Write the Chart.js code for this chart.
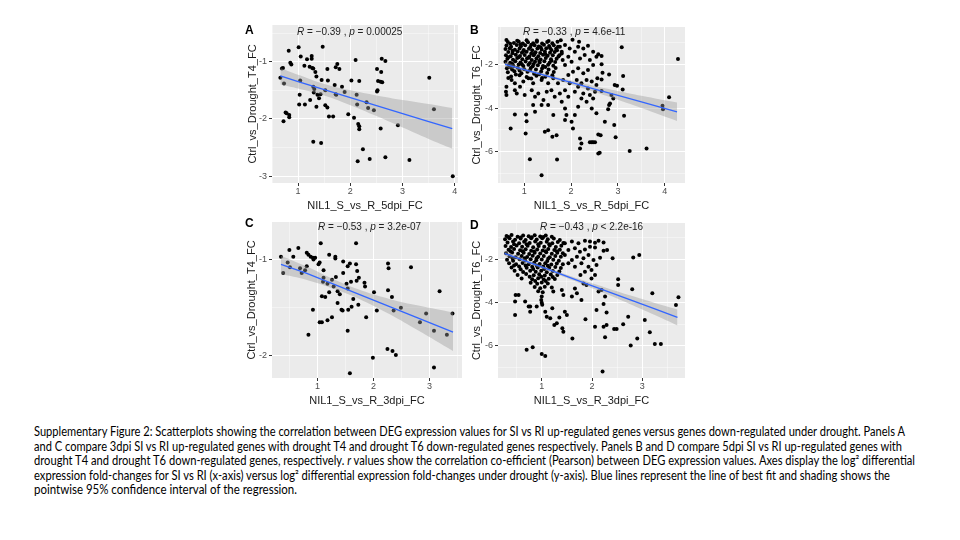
<!DOCTYPE html>
<html>
<head>
<meta charset="utf-8">
<script src="https://cdn.jsdelivr.net/npm/chart.js@4.4.1/dist/chart.umd.min.js"></script>
<style>
  body { margin: 0; width: 960px; height: 540px; background: #fff; position: relative; overflow: hidden;
         font-family: 'Liberation Sans', Arial, sans-serif; }
  canvas { position: absolute; z-index: 1; }
  .stat { position: absolute; z-index: 3; font-size: 10px; line-height: 12px; color: #222; white-space: nowrap; }
  .tag { position: absolute; z-index: 3; font-size: 12px; font-weight: bold; line-height: 14px; color: #000; }
  #cap { position: absolute; left: 34px; top: 425px; font-family: Lato, 'Open Sans', sans-serif;
         font-size: 12.5px; line-height: 14.6px; color: #000; }
  #cap div { white-space: nowrap; transform-origin: 0 0; width: max-content; }
</style>
</head>
<body>

<div class="tag" style="left:245px;top:23px">A</div>
<div class="tag" style="left:470px;top:23px">B</div>
<div class="tag" style="left:245px;top:216px">C</div>
<div class="tag" style="left:470px;top:218px">D</div>

<div class="stat" style="left:297px;top:26px"><i>R</i> = −0.39 , <i>p</i> = 0.00025</div>
<div class="stat" style="left:523px;top:26px"><i>R</i> = −0.33 , <i>p</i> = 4.6e-11</div>
<div class="stat" style="left:318px;top:221px"><i>R</i> = −0.53 , <i>p</i> = 3.2e-07</div>
<div class="stat" style="left:540px;top:221px"><i>R</i> = −0.43 , <i>p</i> &lt; 2.2e-16</div>

<div id="cap">
  <div>Supplementary Figure 2: Scatterplots showing the correlation between DEG expression values for SI vs RI up-regulated genes versus genes down-regulated under drought. Panels A</div>
  <div>and C compare 3dpi SI vs RI up-regulated genes with drought T4 and drought T6 down-regulated genes respectively.  Panels B and D compare 5dpi SI vs RI up-regulated genes with</div>
  <div>drought T4 and drought T6 down-regulated genes, respectively. <i>r</i> values show the correlation co-efficient (Pearson) between DEG expression values. Axes display the log² differential</div>
  <div>expression fold-changes for SI vs RI (x-axis) versus log² differential expression fold-changes under drought (y-axis). Blue lines represent the line of best fit and shading shows the</div>
  <div>pointwise 95% confidence interval of the regression.</div>
</div>

<script>
// ---- data ----
const xTicksA = [1, 2, 3, 4], yTicksA = [-1, -2, -3];
const xTicksB = [1, 2, 3, 4], yTicksB = [-2, -4, -6];
const xTicksC = [1, 2, 3],    yTicksC = [-1, -2];
const xTicksD = [1, 2, 3],    yTicksD = [-2, -4, -6];

const xTitles = ['NIL1_S_vs_R_5dpi_FC', 'NIL1_S_vs_R_5dpi_FC', 'NIL1_S_vs_R_3dpi_FC', 'NIL1_S_vs_R_3dpi_FC'];
const yTitles = ['Ctrl_vs_Drought_T4_FC', 'Ctrl_vs_Drought_T6_FC', 'Ctrl_vs_Drought_T4_FC', 'Ctrl_vs_Drought_T6_FC'];

// fitted line and confidence band
const fitXA = [0.66, 1.0, 1.5, 2.0, 2.5, 3.0, 3.5, 3.95];
const fitYA = [-1.25, -1.35, -1.49, -1.63, -1.77, -1.91, -2.05, -2.17];
const hiA   = [-1.11, -1.23, -1.39, -1.50, -1.59, -1.67, -1.74, -1.81];
const loA   = [-1.40, -1.47, -1.59, -1.76, -1.95, -2.15, -2.35, -2.52];

const fitXB = [0.59, 1.0, 1.5, 2.0, 2.5, 3.0, 3.5, 4.26];
const fitYB = [-2.0, -2.24, -2.54, -2.83, -3.13, -3.42, -3.72, -4.17];
const hiB   = [-1.88, -2.16, -2.47, -2.74, -2.99, -3.22, -3.44, -3.75];
const loB   = [-2.12, -2.32, -2.61, -2.92, -3.27, -3.62, -4.0, -4.59];

const fitXC = [0.35, 0.8, 1.3, 1.8, 2.3, 2.8, 3.42];
const fitYC = [-1.05, -1.14, -1.257, -1.374, -1.491, -1.608, -1.754];
const hiC   = [-0.96, -1.07, -1.207, -1.324, -1.411, -1.478, -1.55];
const loC   = [-1.15, -1.21, -1.307, -1.424, -1.571, -1.738, -1.95];

const fitXD = [0.26, 0.75, 1.25, 1.75, 2.25, 2.75, 3.25, 3.7];
const fitYD = [-1.72, -2.14, -2.57, -3.0, -3.43, -3.86, -4.29, -4.68];
const hiD   = [-1.60, -2.06, -2.50, -2.91, -3.29, -3.66, -4.01, -4.31];
const loD   = [-1.84, -2.22, -2.64, -3.09, -3.57, -4.06, -4.57, -5.05];

// genes: [x, y]
const ptsA = [[1.01,-0.75],[0.82,-0.81],[1.47,-0.74],[1.05,-0.91],[1.17,-0.96],[1.26,-0.90],[1.26,-0.95],[0.85,-1.02],[0.87,-1.05],[0.69,-1.12],[0.71,-1.11],[1.12,-1.07],[1.22,-1.09],[1.27,-1.11],[1.29,-1.12],[1.33,-1.18],[1.56,-1.13],[1.75,-1.04],[1.72,-1.10],[1.79,-1.13],[2.10,-0.97],[2.60,-0.95],[2.67,-0.99],[2.51,-1.13],[2.59,-1.18],[0.66,-1.28],[0.73,-1.38],[1.04,-1.33],[1.35,-1.26],[1.45,-1.32],[1.57,-1.33],[1.70,-1.41],[1.84,-1.44],[1.72,-1.57],[1.73,-1.58],[2.02,-1.33],[2.17,-1.34],[2.53,-1.34],[2.58,-1.35],[2.61,-1.36],[2.52,-1.50],[2.51,-1.52],[3.51,-1.28],[3.60,-1.83],[1.03,-1.58],[1.02,-1.75],[1.13,-1.75],[1.23,-1.67],[1.29,-1.44],[1.30,-1.54],[1.31,-1.48],[1.37,-1.58],[1.43,-1.57],[1.40,-1.64],[1.35,-1.79],[1.52,-1.76],[1.56,-1.80],[1.59,-1.96],[1.67,-1.96],[1.52,-1.50],[1.89,-1.53],[2.12,-1.58],[2.13,-1.75],[1.96,-1.92],[2.07,-1.98],[2.31,-1.71],[2.34,-1.81],[2.45,-1.85],[2.15,-2.09],[2.17,-2.13],[2.17,-2.18],[2.58,-2.17],[2.91,-2.11],[0.76,-1.89],[0.78,-1.90],[0.83,-1.93],[0.83,-1.97],[0.72,-2.04],[1.29,-2.40],[1.44,-2.42],[2.24,-2.53],[2.14,-2.74],[2.37,-2.70],[2.67,-2.67],[3.13,-2.72],[3.96,-3.00]];

const ptsB = [[0.62,-0.89],[0.85,-0.92],[1.05,-0.90],[1.27,-0.91],[1.52,-0.93],[1.78,-0.90],[2.03,-0.87],[2.17,-0.96],
  [0.65,-0.98],[0.78,-1.02],[0.88,-0.95],[0.97,-1.04],[1.08,-0.99],[1.19,-1.03],[1.27,-0.96],[1.38,-1.05],[1.49,-0.98],[1.6,-1.03],[1.71,-0.97],
  [0.62,-1.14],[0.72,-1.19],[0.84,-1.11],[0.93,-1.17],[1.02,-1.12],[1.13,-1.2],[1.22,-1.13],[1.31,-1.18],[1.42,-1.1],[1.53,-1.16],[1.63,-1.12],[1.76,-1.19],
  [0.6,-1.3],[0.69,-1.26],[0.8,-1.33],[0.9,-1.27],[0.99,-1.34],[1.1,-1.28],[1.17,-1.35],[1.28,-1.27],[1.37,-1.32],[1.47,-1.26],[1.58,-1.34],[1.68,-1.29],
  [0.66,-1.43],[0.75,-1.49],[0.86,-1.41],[0.95,-1.47],[1.05,-1.42],[1.15,-1.5],[1.24,-1.44],[1.34,-1.48],[1.44,-1.41],[1.55,-1.47],[1.65,-1.43],[1.8,-1.5],
  [0.61,-1.58],[0.71,-1.63],[0.82,-1.56],[0.91,-1.62],[1.01,-1.57],[1.11,-1.64],[1.2,-1.58],[1.3,-1.63],[1.4,-1.56],[1.5,-1.61],[1.61,-1.58],[1.73,-1.64],
  [0.64,-1.74],[0.76,-1.79],[0.85,-1.71],[0.96,-1.77],[1.06,-1.72],[1.16,-1.8],[1.26,-1.73],[1.35,-1.78],[1.46,-1.71],[1.57,-1.77],[1.69,-1.74],
  [0.6,-1.88],[0.7,-1.93],[0.81,-1.86],[0.92,-1.92],[1.03,-1.87],[1.12,-1.94],[1.23,-1.88],[1.33,-1.91],[1.43,-1.86],[1.54,-1.93],[1.66,-1.89],
  [0.67,-2.03],[0.77,-2.08],[0.88,-2.01],[0.98,-2.07],[1.09,-2.02],[1.18,-2.09],[1.29,-2.04],[1.4,-2.08],[1.51,-2.02],[1.62,-2.06],
  [0.63,-2.18],[0.74,-2.23],[0.86,-2.16],[1.0,-2.22],[1.14,-2.17],[1.25,-2.24],[1.38,-2.19],[1.52,-2.23],[1.67,-2.17],
  [0.65,-2.36],[0.79,-2.31],[0.94,-2.41],[1.07,-2.34],[1.21,-2.43],[1.36,-2.33],[1.49,-2.4],[1.63,-2.35],
  [0.72,-2.55],[0.9,-2.5],[1.05,-2.58],[1.26,-2.52],[1.45,-2.57],[1.6,-2.5],
  [0.7,-1.06],[0.92,-1.08],[1.15,-1.1],[1.35,-1.22],[1.55,-1.25],[0.75,-1.38],[0.98,-1.4],[1.22,-1.52],[1.45,-1.53],[0.66,-1.68],[0.88,-1.67],[1.1,-1.7],[1.32,-1.85],[1.58,-1.83],[0.75,-1.98],[0.95,-2.0],[1.2,-1.98],[1.45,-2.12],[0.7,-2.12],[0.9,-2.28],[1.12,-2.27],[1.32,-2.45],[0.82,-2.46],[1.7,-1.35],[1.75,-1.58],[1.82,-1.8],[0.66,-2.62],[1.15,-2.65],[1.38,-2.62],
  [2.01,-1.88],[1.87,-2.03],[1.94,-1.65],[1.80,-1.42],[1.72,-1.19],[1.87,-1.11],[1.97,-1.27],[2.08,-1.42],[2.15,-1.19],[2.26,-1.27],[2.36,-1.15],[2.47,-1.42],[2.58,-1.54],[2.40,-1.80],[2.54,-1.65],[2.29,-1.57],[2.19,-1.73],[1.94,-2.49],[2.04,-2.34],[2.15,-2.18],[2.26,-2.41],[2.36,-2.26],[2.47,-2.03],
  [0.62,-3.02],[0.80,-3.18],[0.84,-3.33],[0.91,-3.02],[1.01,-3.40],[1.16,-3.18],[1.23,-3.48],[1.30,-3.33],[1.41,-3.63],[1.48,-3.25],[1.58,-3.18],[1.65,-3.48],[1.76,-3.33],[1.80,-3.71],[1.87,-3.18],[1.94,-3.48],[2.08,-3.25],[2.15,-3.02],[2.26,-3.33],[2.36,-3.10],[2.40,-3.40],[2.51,-3.25],[2.54,-2.95],
  [0.73,-2.72],[0.80,-2.87],[0.98,-2.79],[1.09,-2.64],[1.19,-2.87],[1.37,-2.72],[1.51,-2.87],[1.62,-2.64],[1.72,-2.87],[1.83,-2.72],[1.97,-2.87],[2.12,-2.72],[2.22,-2.87],[2.33,-2.72],[2.44,-2.79],[2.56,-2.64],
  [0.61,-3.25],[0.62,-3.40],[0.80,-4.29],[0.71,-4.93],[1.04,-4.29],[1.05,-4.60],[1.03,-5.16],[1.12,-6.34],[1.37,-7.07],[1.44,-5.08],[1.51,-5.01],[1.60,-5.31],[1.69,-5.24],[1.70,-6.35],[1.37,-3.86],[1.51,-3.86],[1.23,-4.17],[1.19,-3.86],[1.62,-4.32],[1.87,-4.02],[1.90,-4.32],[2.01,-4.63],[2.04,-4.93],[2.08,-4.32],[2.15,-3.94],[2.22,-3.56],[2.33,-3.71],[2.44,-4.02],[2.47,-3.56],[2.54,-4.24],[2.22,-5.62],[2.19,-5.85],[2.40,-5.57],[2.44,-5.57],[2.47,-5.57],[2.51,-5.57],[2.58,-5.21],[2.58,-6.08],[2.19,-5.39],[1.87,-4.55],
  [3.08,-1.22],[4.28,-1.76],[2.65,-1.62],[2.65,-2.00],[2.67,-2.38],[2.81,-2.46],[3.11,-2.53],[2.65,-2.69],[2.93,-2.95],[2.98,-2.98],[3.10,-3.15],[2.65,-3.22],[2.86,-3.40],[2.90,-3.56],[2.83,-3.79],[2.81,-3.86],[2.79,-4.05],[3.13,-4.35],[4.09,-3.51],[3.95,-3.89],[3.96,-4.05],[2.72,-4.63],[2.92,-4.78],[2.95,-5.34],[2.61,-6.05],[3.25,-5.97],[3.61,-5.85],[2.63,-5.24]];

const ptsC = [[0.35,-0.97],[0.50,-0.90],[0.66,-0.88],[0.57,-0.97],[0.47,-1.03],[0.39,-1.14],[0.51,-1.08],[0.81,-0.93],[0.84,-0.95],[0.88,-0.97],[0.92,-0.98],[0.93,-1.00],[0.81,-1.07],[0.72,-1.14],[1.06,-0.83],[1.04,-1.03],[1.21,-0.95],[1.32,-0.97],[1.32,-0.99],[1.11,-1.11],[1.11,-1.19],[1.10,-1.23],[1.18,-1.25],[1.26,-1.21],[1.29,-1.28],[1.08,-1.38],[1.14,-1.39],[1.21,-1.34],[1.36,-1.33],[1.46,-1.02],[1.54,-1.07],[1.58,-1.04],[1.69,-0.83],[1.69,-1.05],[1.71,-1.12],[1.70,-1.22],[1.74,-1.19],[1.60,-1.23],[1.54,-1.30],[1.36,-1.45],[1.43,-1.52],[1.45,-1.53],[1.55,-1.52],[1.61,-1.49],[1.73,-1.47],[1.84,-1.24],[1.85,-1.28],[1.87,-1.60],[2.01,-1.34],[2.06,-1.53],[2.26,-1.32],[2.33,-1.39],[2.36,-1.53],[2.49,-1.50],[2.26,-1.04],[2.27,-1.09],[2.67,-1.08],[3.18,-1.33],[2.94,-1.56],[2.83,-1.65],[3.08,-1.74],[3.31,-1.78],[3.41,-1.56],[1.04,-1.65],[1.08,-1.65],[1.18,-1.63],[1.26,-1.60],[0.92,-1.52],[0.84,-1.78],[1.54,-1.74],[2.25,-1.93],[2.34,-1.95],[2.40,-1.99],[1.99,-2.02],[1.58,-2.18],[3.08,-2.12],[0.96,-0.98],[1.02,-1.05],[0.69,-1.09],[0.78,-1.11],[1.46,-1.14],[1.33,-1.18],[1.52,-1.25],[1.40,-1.36],[1.64,-1.41]];

const ptsD = [[0.30,-0.92],[0.40,-0.88],[0.52,-0.95],[0.63,-0.90],[0.74,-0.93],[0.86,-0.89],[0.97,-0.94],[1.08,-0.9],[1.2,-0.96],
  [0.27,-1.07],[0.36,-1.02],[0.47,-1.09],[0.58,-1.04],[0.68,-1.1],[0.79,-1.03],[0.9,-1.08],[1.01,-1.02],[1.12,-1.07],[1.24,-1.04],[1.36,-1.1],
  [0.32,-1.22],[0.43,-1.18],[0.55,-1.25],[0.65,-1.19],[0.76,-1.24],[0.87,-1.17],[0.98,-1.23],[1.1,-1.19],[1.21,-1.26],[1.32,-1.2],[1.43,-1.24],
  [0.28,-1.38],[0.39,-1.43],[0.5,-1.36],[0.61,-1.42],[0.72,-1.37],[0.83,-1.44],[0.94,-1.38],[1.05,-1.42],[1.16,-1.36],[1.28,-1.43],[1.39,-1.37],
  [0.34,-1.56],[0.45,-1.52],[0.57,-1.58],[0.68,-1.53],[0.79,-1.6],[0.91,-1.54],[1.02,-1.59],[1.13,-1.52],[1.25,-1.57],[1.36,-1.55],
  [0.29,-1.72],[0.41,-1.68],[0.53,-1.74],[0.64,-1.69],[0.75,-1.75],[0.86,-1.7],[0.97,-1.73],[1.09,-1.67],[1.2,-1.74],[1.31,-1.69],[1.42,-1.72],
  [0.36,-1.86],[0.48,-1.9],[0.6,-1.84],[0.71,-1.89],[0.82,-1.83],[0.93,-1.88],[1.04,-1.85],[1.16,-1.9],[1.27,-1.84],[1.38,-1.88],
  [0.31,-2.02],[0.43,-2.06],[0.56,-2.0],[0.67,-2.05],[0.78,-1.99],[0.89,-2.04],[1.0,-2.01],[1.11,-2.07],[1.23,-2.02],[1.34,-2.06],
  [0.35,-2.18],[0.49,-2.23],[0.62,-2.17],[0.74,-2.22],[0.85,-2.16],[0.96,-2.21],[1.07,-2.18],[1.19,-2.24],[1.3,-2.19],[1.42,-2.22],
  [0.4,-2.37],[0.55,-2.33],[0.7,-2.39],[0.81,-2.34],[0.92,-2.38],[1.03,-2.33],[1.15,-2.39],[1.27,-2.35],[1.38,-2.4],
  [0.46,-2.53],[0.63,-2.58],[0.77,-2.52],[0.88,-2.57],[0.99,-2.53],[1.1,-2.59],[1.22,-2.54],[1.35,-2.56],
  [0.52,-2.72],[0.69,-2.68],[0.84,-2.73],[0.95,-2.69],[1.06,-2.74],[1.18,-2.7],[1.31,-2.72],
  [0.6,-2.88],[0.81,-2.92],[0.93,-2.87],[1.04,-2.93],[1.14,-2.89],[1.26,-2.91],
  [0.78,-3.08],[0.91,-3.13],[1.0,-3.07],[1.12,-3.12],[0.86,-3.28],[0.97,-3.33],[1.06,-3.27],[1.2,-3.3],[0.93,-3.47],[1.02,-3.52],
  [0.34,-0.97],[0.58,-0.99],[0.8,-0.98],[1.03,-0.97],[0.45,-1.3],[0.7,-1.3],[0.93,-1.3],[1.15,-1.3],[0.38,-1.62],[0.62,-1.62],[0.85,-1.64],[1.08,-1.62],[1.3,-1.62],[0.42,-1.95],[0.66,-1.95],[0.9,-1.95],[1.13,-1.96],[0.45,-2.28],[0.68,-2.28],[0.9,-2.28],[1.12,-2.3],[0.58,-2.46],[0.83,-2.45],[1.05,-2.45],[0.76,-2.8],[0.99,-2.8],[1.22,-2.82],[0.87,-3.0],[1.08,-3.0],
  [1.46,-1.26],[1.60,-1.18],[1.73,-1.26],[1.86,-1.14],[1.96,-1.18],[2.06,-1.23],[2.13,-1.14],[1.53,-1.57],[1.66,-1.49],[1.76,-1.65],[1.86,-1.54],[1.96,-1.42],[2.06,-1.45],[1.70,-1.88],[1.83,-1.95],[1.93,-1.80],[1.46,-1.80],[1.60,-2.03],[1.53,-2.18],[1.66,-2.34],[1.79,-2.18],[1.93,-2.34],
  [0.47,-4.57],[0.47,-3.95],[0.48,-3.65],[0.54,-3.65],[0.70,-6.18],[0.82,-6.06],[1.0,-6.37],[1.07,-6.46],[0.74,-4.18],[0.77,-4.18],[0.67,-3.95],[0.77,-4.42],[0.90,-4.18],[1.0,-3.72],[0.99,-3.88],[1.0,-4.0],[1.01,-4.1],[1.07,-4.42],[1.10,-4.65],[1.17,-4.72],[1.21,-4.26],[1.25,-5.03],[1.30,-4.95],[1.35,-4.68],[1.41,-5.18],[1.43,-5.34],[1.46,-4.42],[1.50,-4.57],[1.61,-5.65],[1.60,-3.72],[1.70,-3.57],[1.79,-3.88],[1.87,-4.77],[2.13,-3.49],[2.19,-3.42],[2.26,-3.72],[2.09,-4.34],[2.06,-5.11],[1.40,-3.42],[1.43,-3.65],[1.23,-3.49],[1.66,-3.34],[1.83,-3.11],[1.89,-3.18],[1.99,-2.88],[2.06,-2.72],[1.99,-2.49],[1.77,-2.72],[1.86,-2.57],[2.09,-2.26],[2.03,-2.03],
  [2.23,-1.22],[2.23,-1.60],[2.30,-1.57],[2.41,-1.95],[2.82,-1.91],[2.94,-1.80],[2.16,-1.92],[2.52,-2.92],[2.52,-3.18],[2.80,-3.38],[3.20,-3.57],[3.72,-3.75],[3.67,-4.11],[2.23,-4.06],[2.29,-4.46],[2.72,-4.65],[3.05,-4.80],[2.62,-5.0],[2.23,-5.11],[2.29,-5.03],[2.44,-5.22],[2.49,-5.22],[2.26,-5.60],[3.15,-5.37],[2.90,-5.65],[2.77,-5.98],[3.25,-5.91],[3.37,-5.91],[2.21,-7.18]];

// axis ranges
const xRangeA = [0.5, 4.06],  yRangeA = [-3.12, -0.36];
const xRangeB = [0.44, 4.43], yRangeB = [-7.43, -0.29];
const xRangeC = [0.19, 3.58], yRangeC = [-2.23, -0.61];
const xRangeD = [0.13, 3.85], yRangeD = [-7.48, -0.32];

// ---- drawing ----
const panelBg = {
  id: 'panelBg',
  beforeDraw(chart) {
    const a = chart.chartArea, c = chart.ctx;
    c.save();
    c.fillStyle = '#EBEBEB';
    c.fillRect(a.left, a.top, a.right - a.left, a.bottom - a.top);
    c.restore();
  }
};

function gridValues(majors, range) {
  const half = (majors[1] - majors[0]) / 2;
  const out = [];
  for (let i = -20; i <= 20; i++) {
    const v = +(majors[0] + i * half).toFixed(6);
    if (v >= range[0] && v <= range[1]) out.push(v);
  }
  return out.sort((a, b) => a - b);
}

function axis(majors, range, title, horiz, size) {
  const vals = gridValues(majors, range);
  const isMajor = c => c.tick && majors.some(m => Math.abs(m - c.tick.value) < 1e-6);
  return {
    type: 'linear', min: range[0], max: range[1],
    afterBuildTicks: s => { s.ticks = vals.map(v => ({ value: v })); },
    afterFit: s => { if (horiz) s.height = size; else s.width = size; },
    border: { display: false },
    grid: {
      color: c => isMajor(c) ? '#ffffff' : 'rgba(255,255,255,0.8)',
      lineWidth: c => isMajor(c) ? 1 : 0.5,
      tickColor: c => isMajor(c) ? '#333333' : 'rgba(0,0,0,0)',
      tickLength: 3
    },
    ticks: {
      autoSkip: false, maxRotation: 0, padding: horiz ? 0 : 2,
      color: '#4d4d4d', font: { family: 'Liberation Sans', size: 9 },
      callback: v => majors.some(m => Math.abs(m - v) < 1e-6) ? String(v) : ''
    },
    title: { display: true, text: title, color: '#1a1a1a', padding: 0,
             font: { family: 'Liberation Sans', size: 11 } }
  };
}

function panel(box, pts, fx, fy, hi, lo, xt, yt, xr, yr, xTitle, yTitle) {
  const cl = Math.round(box.ytx - 6.6), ct = box.t - 8, cb = Math.round(box.xty + 6.6);
  const cv = document.createElement('canvas');
  cv.width = box.r + 8 - cl;
  cv.height = cb - ct;
  cv.style.left = cl + 'px';
  cv.style.top = ct + 'px';
  document.body.appendChild(cv);

  const xy = (xs, ys) => xs.map((x, i) => ({ x: x, y: ys[i] }));
  new Chart(cv.getContext('2d'), {
    type: 'scatter',
    data: {
      datasets: [
        { type: 'line', data: xy(fx, fy), borderColor: '#3366FF', borderWidth: 1.3,
          pointRadius: 0, fill: false, tension: 0, order: 0 },
        { type: 'line', data: xy(fx, hi), borderWidth: 0, borderColor: 'rgba(0,0,0,0)',
          pointRadius: 0, fill: '+1', backgroundColor: 'rgba(153,153,153,0.4)', tension: 0.4, order: 1 },
        { type: 'line', data: xy(fx, lo), borderWidth: 0, borderColor: 'rgba(0,0,0,0)',
          pointRadius: 0, fill: false, tension: 0.4, order: 1 },
        { data: pts.map(p => ({ x: p[0], y: p[1] })), pointRadius: 2,
          pointBackgroundColor: '#000', pointBorderWidth: 0, order: 2 }
      ]
    },
    options: {
      responsive: false, animation: false, events: [],
      layout: { padding: { left: 0, top: 8, right: 8, bottom: 0 } },
      plugins: { legend: { display: false }, tooltip: { enabled: false } },
      scales: {
        x: axis(xt, xr, xTitle, true, cb - box.b),
        y: axis(yt, yr, yTitle, false, box.l - cl)
      }
    },
    plugins: [panelBg]
  });
}

panel({ l: 272, r: 458, t: 25, b: 183, ytx: 252.5, xty: 206.5 }, ptsA, fitXA, fitYA, hiA, loA,
      xTicksA, yTicksA, xRangeA, yRangeA, xTitles[0], yTitles[0]);
panel({ l: 498, r: 685, t: 27, b: 183, ytx: 476.5, xty: 206.5 }, ptsB, fitXB, fitYB, hiB, loB,
      xTicksB, yTicksB, xRangeB, yRangeB, xTitles[1], yTitles[1]);
panel({ l: 272, r: 462, t: 222, b: 378, ytx: 252, xty: 401.5 }, ptsC, fitXC, fitYC, hiC, loC,
      xTicksC, yTicksC, xRangeC, yRangeC, xTitles[2], yTitles[2]);
panel({ l: 498, r: 685, t: 223, b: 378, ytx: 476.5, xty: 401.5 }, ptsD, fitXD, fitYD, hiD, loD,
      xTicksD, yTicksD, xRangeD, yRangeD, xTitles[3], yTitles[3]);

// caption lines stretched to the widths seen in the figure
const capWidths = [871, 868, 881, 856, 263];
document.querySelectorAll('#cap div').forEach((d, i) => {
  const w = d.getBoundingClientRect().width;
  d.style.transform = 'scaleX(' + (capWidths[i] / w) + ')';
});
</script>
</body>
</html>
